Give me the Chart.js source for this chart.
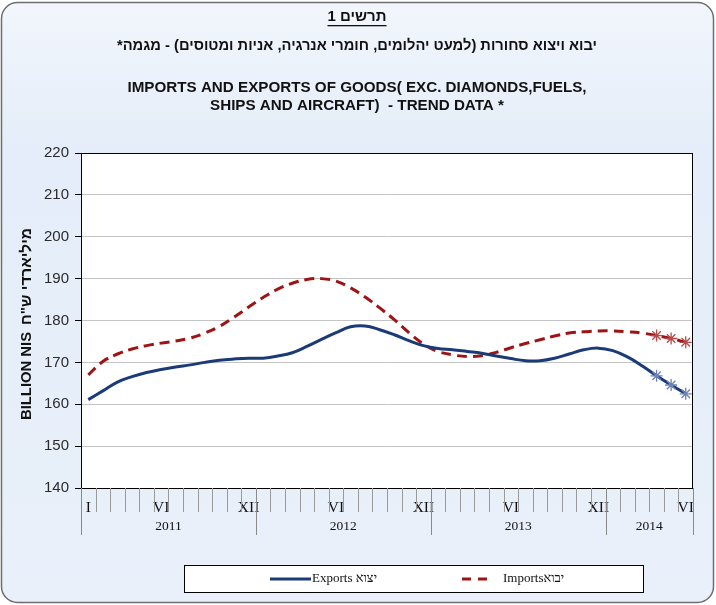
<!DOCTYPE html>
<html>
<head>
<meta charset="utf-8">
<script src="https://cdn.jsdelivr.net/npm/chart.js@4/dist/chart.umd.min.js"></script>
<style>
html,body{margin:0;padding:0;background:#fff;}
canvas{display:block;}
</style>
</head>
<body>
<canvas id="c" width="716" height="605"></canvas>
<script>
// ---- data ----
const yearLabels = ['2011', '2012', '2013', '2014'];
const monthsPerYear = [12, 12, 12, 6];
const tickLabels = [
  'I','','','','','VI','','','','','','XII',
  '','','','','','VI','','','','','','XII',
  '','','','','','VI','','','','','','XII',
  '','','','','','VI'
];
const categories = [
  '2011-01','2011-02','2011-03','2011-04','2011-05','2011-06','2011-07','2011-08','2011-09','2011-10','2011-11','2011-12',
  '2012-01','2012-02','2012-03','2012-04','2012-05','2012-06','2012-07','2012-08','2012-09','2012-10','2012-11','2012-12',
  '2013-01','2013-02','2013-03','2013-04','2013-05','2013-06','2013-07','2013-08','2013-09','2013-10','2013-11','2013-12',
  '2014-01','2014-02','2014-03','2014-04','2014-05','2014-06'
];
const exportsValues = [
  161.1,163.2,165.3,166.6,167.6,168.3,168.9,169.4,170.0,170.5,170.8,171.0,
  171.0,171.5,172.3,173.8,175.5,177.1,178.5,178.7,177.8,176.6,175.2,174.0,
  173.3,173.0,172.6,172.2,171.5,170.9,170.4,170.4,171.0,172.0,173.0,173.4,
  172.8,171.3,169.2,166.8,164.6,162.5
];
const importsValues = [
  167.0,170.2,172.0,173.2,174.0,174.6,175.1,175.8,177.0,178.6,180.8,183.2,
  185.5,187.5,188.9,189.8,190.0,189.4,187.8,185.6,183.0,180.2,177.1,174.4,
  172.6,171.8,171.4,171.6,172.4,173.5,174.5,175.4,176.3,177.0,177.3,177.5,
  177.5,177.3,177.0,176.4,175.7,174.8
];
const provisionalCount = 3; // last points marked with asterisks
const yTicks = [140,150,160,170,180,190,200,210,220];

const titleHe = 'תרשים 1';
const subtitleHe = 'יבוא ויצוא סחורות (למעט יהלומים, חומרי אנרגיה, אניות ומטוסים) - מגמה*';
const titleEn1 = 'IMPORTS AND EXPORTS OF GOODS( EXC. DIAMONDS,FUELS,';
const titleEn2 = 'SHIPS AND AIRCRAFT)  - TREND DATA *';
const yTitleEn = 'BILLION NIS';
const yTitleHe = 'מיליארדי ש"ח';
const legendExports = 'Exports יצוא';
const legendImports = 'Importsיבוא';

const EXP_COLOR = '#1b3a78';
const IMP_COLOR = '#9e1414';

function markerRadii(n){ return Array.from({length:n},(_,i)=> i>=n-provisionalCount ? 6 : 0); }

function fitText(ctx, text, x, y, target){
  const w = ctx.measureText(text).width;
  ctx.save();
  ctx.translate(x, y);
  ctx.scale(target / w, 1);
  ctx.fillText(text, 0, 0);
  ctx.restore();
}

const decor = {
  id: 'decor',
  beforeDraw(chart){
    const ctx = chart.ctx, ca = chart.chartArea;
    ctx.save();
    const g = ctx.createLinearGradient(0,0,0,605);
    g.addColorStop(0,'#f2f6fc');
    g.addColorStop(0.25,'#e4edf9');
    g.addColorStop(1,'#e9f0fa');
    ctx.fillStyle = '#ffffff';
    ctx.fillRect(0,0,716,605);
    ctx.beginPath();
    ctx.roundRect(1.5,2.5,712,600,16);
    ctx.fillStyle = g;
    ctx.fill();
    ctx.lineWidth = 1.5;
    ctx.strokeStyle = '#6e6e6e';
    ctx.stroke();
    ctx.fillStyle = '#ffffff';
    ctx.fillRect(ca.left, ca.top, ca.right-ca.left, ca.bottom-ca.top);
    ctx.restore();
  },
  afterDraw(chart){
    const ctx = chart.ctx, ca = chart.chartArea, xs = chart.scales.x;
    ctx.save();
    const cx = 357;
    ctx.fillStyle = '#111';
    ctx.textAlign = 'center';
    ctx.textBaseline = 'middle';
    // titles
    ctx.direction = 'rtl';
    ctx.font = 'bold 15px "Liberation Sans", Arial, sans-serif';
    ctx.fillText(titleHe, cx, 17);
    const w = ctx.measureText(titleHe).width;
    ctx.fillRect(cx - w/2, 25, w, 1.3);
    ctx.font = 'bold 14.7px "Liberation Sans", Arial, sans-serif';
    ctx.fillText(subtitleHe, cx, 46);
    ctx.direction = 'ltr';
    ctx.font = 'bold 15.2px "Liberation Sans", Arial, sans-serif';
    ctx.fillText(titleEn1, cx, 88);
    ctx.fillText(titleEn2, cx, 106);
    // y title (two runs, bottom: English, top: Hebrew)
    ctx.save();
    ctx.translate(27, 0);
    ctx.rotate(-Math.PI/2);
    ctx.font = 'bold 15px "Liberation Sans", Arial, sans-serif';
    fitText(ctx, yTitleEn, -376, 0, 88);
    ctx.direction = 'rtl';
    fitText(ctx, yTitleHe, -276.5, 0, 97);
    ctx.restore();
    // plot frame
    ctx.strokeStyle = '#000';
    ctx.lineWidth = 1;
    ctx.strokeRect(Math.round(ca.left)+0.5, Math.round(ca.top)+0.5, Math.round(ca.right-ca.left)-1, Math.round(ca.bottom-ca.top));
    // x category ticks
    const step = xs.getPixelForValue(1) - xs.getPixelForValue(0);
    ctx.strokeStyle = '#9a9a9a';
    ctx.beginPath();
    for (let i=0;i<=categories.length;i++){
      const x = Math.round(xs.getPixelForValue(0) - step/2 + i*step)+0.5;
      ctx.moveTo(x, ca.bottom); ctx.lineTo(x, ca.bottom+24);
    }
    ctx.stroke();
    // year separators and labels
    let idx = 0;
    ctx.font = '13.5px "Liberation Serif", "DejaVu Serif", serif';
    ctx.fillStyle = '#111';
    ctx.strokeStyle = '#8a8a8a';
    for (let y=0;y<yearLabels.length;y++){
      const x0 = xs.getPixelForValue(idx) - step/2;
      const x1 = xs.getPixelForValue(idx + monthsPerYear[y]-1) + step/2;
      ctx.beginPath();
      ctx.moveTo(Math.round(x0)+0.5, ca.bottom); ctx.lineTo(Math.round(x0)+0.5, ca.bottom+47);
      ctx.moveTo(Math.round(x1)+0.5, ca.bottom); ctx.lineTo(Math.round(x1)+0.5, ca.bottom+47);
      ctx.stroke();
      ctx.fillText(yearLabels[y], (x0+x1)/2, ca.bottom+38);
      idx += monthsPerYear[y];
    }
    // legend
    ctx.fillStyle = '#ffffff';
    ctx.fillRect(184.5, 565.5, 459, 27);
    ctx.strokeStyle = '#000';
    ctx.lineWidth = 1;
    ctx.strokeRect(184.5, 565.5, 459, 27);
    ctx.lineWidth = 3;
    ctx.strokeStyle = EXP_COLOR;
    ctx.beginPath(); ctx.moveTo(270, 579); ctx.lineTo(311, 579); ctx.stroke();
    ctx.strokeStyle = IMP_COLOR;
    ctx.setLineDash([9,7]);
    ctx.beginPath(); ctx.moveTo(462, 579); ctx.lineTo(493, 579); ctx.stroke();
    ctx.setLineDash([]);
    ctx.fillStyle = '#111';
    ctx.textAlign = 'left';
    ctx.font = '13px "Liberation Serif", "DejaVu Serif", serif';
    ctx.fillText(legendExports, 312, 579);
    ctx.fillText(legendImports, 503, 579);
    ctx.restore();
  }
};

new Chart(document.getElementById('c'), {
  type: 'line',
  data: {
    labels: categories,
    datasets: [
      {
        label: legendExports,
        data: exportsValues,
        borderColor: EXP_COLOR,
        borderWidth: 3,
        tension: 0.4,
        pointStyle: 'star',
        pointRadius: markerRadii(exportsValues.length),
        pointBorderColor: '#6d82b8',
        pointBorderWidth: 1.3,
        pointBackgroundColor: '#6d82b8',
        fill: false
      },
      {
        label: legendImports,
        data: importsValues,
        borderColor: IMP_COLOR,
        borderWidth: 3,
        borderDash: [10,6],
        tension: 0.4,
        pointStyle: 'star',
        pointRadius: markerRadii(importsValues.length),
        pointBorderColor: '#b84a4a',
        pointBorderWidth: 1.3,
        pointBackgroundColor: '#b84a4a',
        fill: false
      }
    ]
  },
  options: {
    responsive: false,
    animation: false,
    layout: { padding: { left: 0, top: 153, right: 23, bottom: 0 } },
    plugins: { legend: { display: false }, tooltip: { enabled: false } },
    scales: {
      x: {
        offset: true,
        grid: { display: false },
        border: { display: false },
        ticks: {
          autoSkip: false, maxRotation: 0, padding: 3,
          color: '#111',
          font: { family: '"Liberation Serif", "DejaVu Serif", serif', size: 15.5 },
          callback: (v, i) => tickLabels[i]
        },
        afterFit: s => { s.height = 117; }
      },
      y: {
        min: 140, max: 220,
        afterBuildTicks: s => { s.ticks = yTicks.map(v => ({value: v})); },
        grid: { color: '#c4c4c4', lineWidth: 1, tickLength: 6, tickColor: '#000' },
        border: { color: '#000' },
        ticks: {
          padding: 6,
          color: '#2a2a2a',
          font: { family: '"Liberation Sans", Arial, sans-serif', size: 15 }
        },
        afterFit: s => { s.width = 81; }
      }
    }
  },
  plugins: [decor]
});
</script>
</body>
</html>
